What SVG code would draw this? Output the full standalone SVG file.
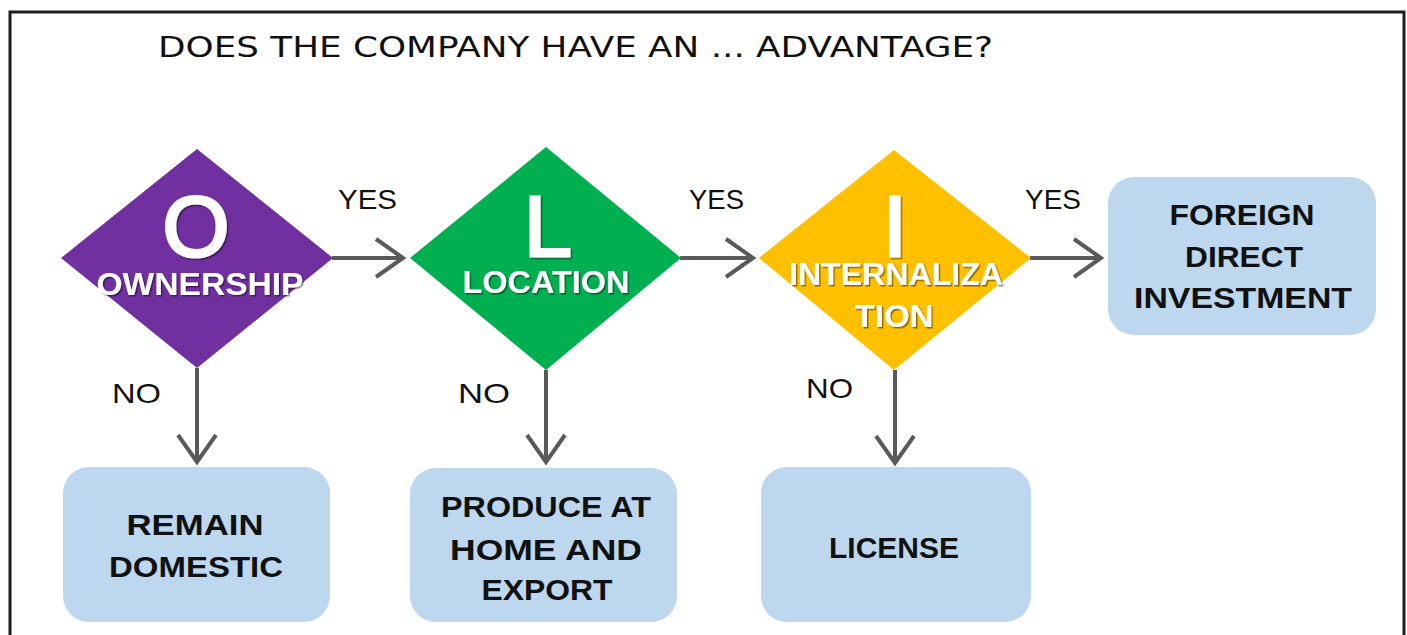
<svg xmlns="http://www.w3.org/2000/svg" width="1407" height="635" viewBox="0 0 1407 635">
  <defs>
    <style>
      .frame { fill: none; stroke: #1c1c1c; stroke-width: 3; }
      .title { font-family: "DejaVu Sans", "Liberation Sans", sans-serif; font-size: 29px; fill: #111; }
      .edge-label { font-family: "Liberation Sans", Arial, sans-serif; font-size: 28px; fill: #111; }
      .big { font-family: "Liberation Sans", Arial, sans-serif; font-size: 86px; fill: #fff; stroke: #fff; stroke-width: 3; text-anchor: middle; }
      .dlabel { font-family: "Liberation Sans", Arial, sans-serif; font-size: 31px; font-weight: bold; fill: #fff; text-anchor: middle; }
      .blabel { font-family: "Liberation Sans", Arial, sans-serif; font-size: 29px; font-weight: bold; fill: #111; text-anchor: middle; }
      .box { fill: #BDD7EE; }
      .conn { fill: none; stroke: #5a5a5a; stroke-width: 4; }
      .head { fill: none; stroke: #5a5a5a; stroke-width: 4; stroke-linejoin: miter; }
    </style>
    <filter id="letterShadow" x="-10%" y="-10%" width="130%" height="130%">
      <feDropShadow dx="1.5" dy="1.5" stdDeviation="0.6" flood-color="#000" flood-opacity="0.45"/>
    </filter>
    <marker id="chevron" markerUnits="userSpaceOnUse" markerWidth="44" markerHeight="48" viewBox="-34 -24 44 48" refX="0" refY="0" orient="auto">
      <path class="head" d="M-27,-19 L0,0 L-27,19"/>
    </marker>
  </defs>

  <!-- outer frame, open at the bottom -->
  <path class="frame" d="M10,640 V12 H1404 V640"/>

  <text class="title" x="158" y="57" textLength="835" lengthAdjust="spacingAndGlyphs">DOES THE COMPANY HAVE AN ... ADVANTAGE?</text>

  <!-- connectors -->
  <g id="connectors">
    <line class="conn" x1="332" y1="258" x2="403" y2="258" marker-end="url(#chevron)"/>
    <line class="conn" x1="680" y1="258" x2="753" y2="258" marker-end="url(#chevron)"/>
    <line class="conn" x1="1030" y1="258" x2="1101" y2="258" marker-end="url(#chevron)"/>
    <line class="conn" x1="197" y1="368" x2="197" y2="462" marker-end="url(#chevron)"/>
    <line class="conn" x1="546" y1="370" x2="546" y2="462" marker-end="url(#chevron)"/>
    <line class="conn" x1="895" y1="370" x2="895" y2="463" marker-end="url(#chevron)"/>
    <text class="edge-label" x="338" y="209" textLength="59" lengthAdjust="spacingAndGlyphs">YES</text>
    <text class="edge-label" x="689" y="209" textLength="55" lengthAdjust="spacingAndGlyphs">YES</text>
    <text class="edge-label" x="1025" y="209" textLength="56" lengthAdjust="spacingAndGlyphs">YES</text>
    <text class="edge-label" x="112" y="403" textLength="49" lengthAdjust="spacingAndGlyphs">NO</text>
    <text class="edge-label" x="458" y="403" textLength="52" lengthAdjust="spacingAndGlyphs">NO</text>
    <text class="edge-label" x="806" y="398" textLength="47" lengthAdjust="spacingAndGlyphs">NO</text>
  </g>

  <!-- decision: ownership -->
  <g id="ownership">
    <polygon points="197,149 333,258 197,368 61,258" fill="#7030A0"/>
    <text class="big" x="196" y="256" filter="url(#letterShadow)">O</text>
    <text class="dlabel" x="200" y="295" textLength="207" lengthAdjust="spacingAndGlyphs" filter="url(#letterShadow)">OWNERSHIP</text>
  </g>

  <!-- decision: location -->
  <g id="location">
    <polygon points="546,147 681,258 546,370 410,258" fill="#00B050"/>
    <text class="big" x="548" y="256" filter="url(#letterShadow)">L</text>
    <text class="dlabel" x="546" y="293" textLength="167" lengthAdjust="spacingAndGlyphs" filter="url(#letterShadow)">LOCATION</text>
  </g>

  <!-- decision: internalization -->
  <g id="internalization">
    <polygon points="894,150 1031,258 894,370 759,258" fill="#FFC000"/>
    <text class="big" x="895" y="256" filter="url(#letterShadow)">I</text>
    <text class="dlabel" x="896" y="285" textLength="214" lengthAdjust="spacingAndGlyphs" filter="url(#letterShadow)">INTERNALIZA</text>
    <text class="dlabel" x="894" y="327" textLength="79" lengthAdjust="spacingAndGlyphs" filter="url(#letterShadow)">TION</text>
  </g>

  <!-- outcome: FDI -->
  <g id="fdi">
    <rect class="box" x="1108" y="177" width="268" height="158" rx="26"/>
    <text class="blabel" x="1242" y="225" font-size="30" textLength="145" lengthAdjust="spacingAndGlyphs">FOREIGN</text>
    <text class="blabel" x="1244" y="267" font-size="30" textLength="118" lengthAdjust="spacingAndGlyphs">DIRECT</text>
    <text class="blabel" x="1243" y="308" font-size="30" textLength="218" lengthAdjust="spacingAndGlyphs">INVESTMENT</text>
  </g>

  <!-- outcome: remain domestic -->
  <g id="remain-domestic">
    <rect class="box" x="63" y="467" width="267" height="155" rx="26"/>
    <text class="blabel" x="195" y="535" textLength="137" lengthAdjust="spacingAndGlyphs">REMAIN</text>
    <text class="blabel" x="196" y="577" textLength="174" lengthAdjust="spacingAndGlyphs">DOMESTIC</text>
  </g>

  <!-- outcome: produce at home and export -->
  <g id="produce-export">
    <rect class="box" x="410" y="468" width="267" height="154" rx="26"/>
    <text class="blabel" x="546" y="517" textLength="210" lengthAdjust="spacingAndGlyphs">PRODUCE AT</text>
    <text class="blabel" x="546" y="560" textLength="192" lengthAdjust="spacingAndGlyphs">HOME AND</text>
    <text class="blabel" x="547" y="600" textLength="131" lengthAdjust="spacingAndGlyphs">EXPORT</text>
  </g>

  <!-- outcome: license -->
  <g id="license">
    <rect class="box" x="761" y="467" width="270" height="155" rx="26"/>
    <text class="blabel" x="894" y="558" font-size="33" textLength="130" lengthAdjust="spacingAndGlyphs">LICENSE</text>
  </g>
</svg>
